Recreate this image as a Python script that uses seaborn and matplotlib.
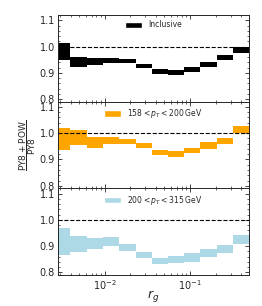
import numpy as np
import seaborn as sns
import matplotlib.pyplot as plt
from matplotlib.patches import Patch
from matplotlib.ticker import MultipleLocator

# bin edges in r_g
rg_edges = [0.0025, 0.0039, 0.0062, 0.0095, 0.0147, 0.023, 0.0357,
            0.055, 0.0857, 0.132, 0.206, 0.32, 0.5]

# ratio bands (low, high) per bin
incl_lo = [0.947, 0.921, 0.929, 0.936, 0.936, 0.918, 0.897, 0.892, 0.904, 0.922, 0.947, 0.977]
incl_hi = [1.014, 0.962, 0.958, 0.955, 0.951, 0.932, 0.913, 0.909, 0.922, 0.942, 0.968, 1.000]

pt1_lo = [0.935, 0.955, 0.945, 0.958, 0.958, 0.944, 0.918, 0.910, 0.923, 0.941, 0.959, 1.000]
pt1_hi = [1.019, 1.012, 0.985, 0.985, 0.979, 0.964, 0.936, 0.931, 0.945, 0.965, 0.983, 1.027]

pt2_lo = [0.867, 0.878, 0.888, 0.899, 0.883, 0.856, 0.832, 0.835, 0.841, 0.858, 0.874, 0.909]
pt2_hi = [0.969, 0.940, 0.931, 0.935, 0.909, 0.878, 0.856, 0.862, 0.874, 0.891, 0.906, 0.944]

labels = ["Inclusive",
          r"$158 < p_T < 200\,\mathrm{GeV}$",
          r"$200 < p_T < 315\,\mathrm{GeV}$"]
colors = ["black", "orange", "lightblue"]

sns.set_style("ticks")
plt.rcParams['font.family'] = ['DejaVu Sans']
plt.rcParams['mathtext.fontset'] = 'dejavusans'

fig = plt.figure(figsize=(2.62, 3.06), dpi=100)
gs = fig.add_gridspec(3, 1, left=0.22, right=0.952, top=0.951, bottom=0.101, hspace=0)
axes = [fig.add_subplot(gs[i]) for i in range(3)]

bands = [(incl_lo, incl_hi), (pt1_lo, pt1_hi), (pt2_lo, pt2_hi)]
for ax, (lo, hi), lab, col in zip(axes, bands, labels, colors):
    lo_s = list(lo) + [lo[-1]]
    hi_s = list(hi) + [hi[-1]]
    ax.fill_between(rg_edges, lo_s, hi_s, step='post', color=col, lw=0)
    ax.axhline(1.0, color='black', ls='--', lw=0.8)
    ax.set_xscale('log')
    ax.set_xlim(0.0028, 0.5)
    ax.set_ylim(0.79, 1.12)
    ax.yaxis.set_major_locator(MultipleLocator(0.1))
    ax.yaxis.set_minor_locator(MultipleLocator(0.02))
    ax.tick_params(which='both', direction='in', top=True, right=True, labelsize=7, pad=2)
    ax.tick_params(which='major', length=3, width=0.6)
    ax.tick_params(which='minor', length=1.6, width=0.5)
    for s in ax.spines.values():
        s.set_linewidth(0.7)
    ax.legend([Patch(facecolor=col)], [lab], loc='upper center', frameon=False,
              fontsize=5.5, handlelength=2.2, handleheight=0.9,
              borderaxespad=0.3, bbox_to_anchor=(0.5, 1.0))
    if ax is not axes[-1]:
        ax.tick_params(labelbottom=False)

axes[1].set_ylabel(r"$\dfrac{\mathrm{PY8} + \mathrm{POW}}{\mathrm{PY8}}$", fontsize=6.5, labelpad=1)
axes[2].set_xlabel(r"$r_g$", fontsize=9, labelpad=-3)

fig.savefig("out.png", dpi=100)
